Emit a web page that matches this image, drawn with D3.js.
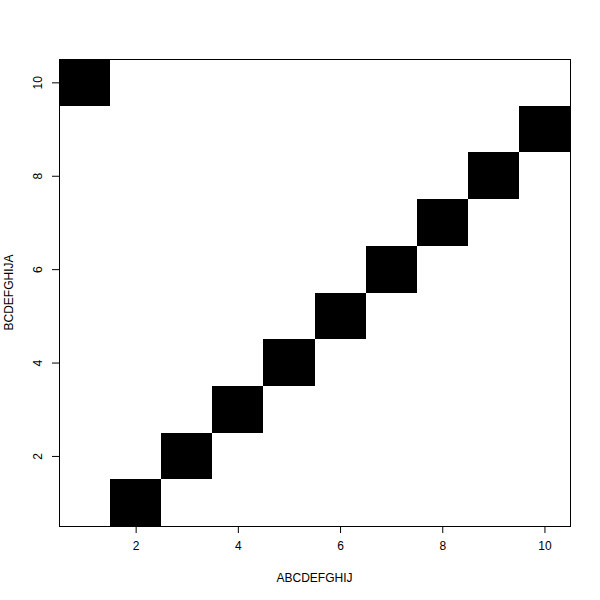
<!DOCTYPE html>
<html><head><meta charset="utf-8">
<script src="https://cdn.jsdelivr.net/npm/d3@7"></script>
<style>body{margin:0;background:#fff}svg{display:block}text{font-family:"Liberation Sans",Arial,sans-serif;font-size:12px;fill:#000}</style>
</head><body>
<script>
const xVals = [1,2,3,4,5,6,7,8,9,10];
const yVals = [10,1,2,3,4,5,6,7,8,9];
const xTicks = [2,4,6,8,10];
const yTicks = [2,4,6,8,10];
const xTitle = "ABCDEFGHIJ";
const yTitle = "BCDEFGHIJA";

const W=600,H=600, L=59, R=570, T=59, B=526;
const svg = d3.select("body").append("svg").attr("width",W).attr("height",H);
const x = d3.scaleLinear().domain([0.5,10.5]).range([L,R]);
const y = d3.scaleLinear().domain([0.5,10.5]).range([B,T]);

svg.append("g").selectAll("rect").data(xVals.map((v,i)=>({x:v,y:yVals[i]}))).join("rect")
  .attr("x",d=>x(d.x-0.5)).attr("y",d=>y(d.y+0.5))
  .attr("width",d=>x(d.x+0.5)-x(d.x-0.5)).attr("height",d=>y(d.y-0.5)-y(d.y+0.5))
  .attr("fill","#000").attr("shape-rendering","crispEdges");

const xa = svg.append("g").attr("transform",`translate(0,${B})`)
  .call(d3.axisBottom(x).tickValues(xTicks).tickSize(7).tickPadding(8).tickFormat(d3.format("d")));
xa.select(".domain").remove();
xa.selectAll("text").style("font-size","12px").attr("font-family","Liberation Sans, Arial, sans-serif");

const ya = svg.append("g").attr("transform",`translate(${L},0)`)
  .call(d3.axisLeft(y).tickValues(yTicks).tickSize(7).tickFormat(d3.format("d")));
ya.select(".domain").remove();
ya.selectAll("text").attr("transform",null).attr("x",0).attr("dy",null)
  .each(function(d){ d3.select(this).attr("transform",`translate(${L-21},${0}) rotate(-90)`); })
  .attr("text-anchor","middle").attr("dy","0.35em")
  .style("font-size","12px").attr("font-family","Liberation Sans, Arial, sans-serif");
ya.selectAll(".tick").each(function(d){
  const g=d3.select(this);
  g.select("text").attr("transform",`translate(-21,0) rotate(-90)`).attr("x",0).attr("y",0);
});

svg.append("rect").attr("x",L).attr("y",T).attr("width",R-L).attr("height",B-T)
  .attr("fill","none").attr("stroke","#000").attr("stroke-width",1).attr("shape-rendering","crispEdges");

svg.append("text").attr("x",(L+R)/2).attr("y",582).attr("text-anchor","middle").text(xTitle);
svg.append("text").attr("transform",`translate(13,${(T+B)/2}) rotate(-90)`).attr("text-anchor","middle").text(yTitle);
</script>
</body></html>
